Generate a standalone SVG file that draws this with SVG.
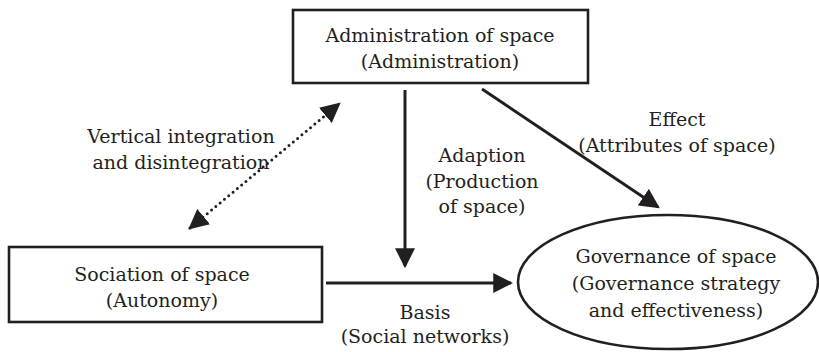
<svg xmlns="http://www.w3.org/2000/svg" width="819" height="352" viewBox="0 0 819 352">
  <defs>
    <style>
      .box { fill: #ffffff; stroke: #231f20; stroke-width: 2.6; }
      .lbl { font-family: "DejaVu Serif", serif; font-size: 19px; fill: #231f20; text-anchor: middle; }
      .arrow { fill: none; stroke: #231f20; stroke-width: 3; marker-end: url(#head); }
      .dotted { fill: none; stroke: #231f20; stroke-width: 3; stroke-linecap: round; stroke-dasharray: 0 5.6; }
    </style>
    <marker id="head" markerUnits="userSpaceOnUse" markerWidth="20" markerHeight="20" viewBox="0 0 18 18" refX="16" refY="9" orient="auto">
      <path d="M0,0 L18,9 L0,18 z" fill="#231f20"/>
    </marker>
    <marker id="headBoth" markerUnits="userSpaceOnUse" markerWidth="20" markerHeight="20" viewBox="0 0 18 18" refX="16" refY="9" orient="auto-start-reverse">
      <path d="M0,0 L18,9 L0,18 z" fill="#231f20"/>
    </marker>
  </defs>

  <rect width="819" height="352" fill="#ffffff"/>

  <!-- connectors -->
  <g id="connectors">
    <line class="dotted" x1="190" y1="228" x2="339" y2="104" marker-start="url(#headBoth)" marker-end="url(#headBoth)"/>
    <line class="arrow" x1="405" y1="90" x2="405" y2="266"/>
    <line class="arrow" x1="482" y1="89" x2="658" y2="207"/>
    <line class="arrow" x1="326" y1="283" x2="511" y2="283"/>
    <text class="lbl" x="181" y="143">Vertical integration</text>
    <text class="lbl" x="181" y="169">and disintegration</text>
    <text class="lbl" x="482" y="162">Adaption</text>
    <text class="lbl" x="482" y="188">(Production</text>
    <text class="lbl" x="482" y="213">of space)</text>
    <text class="lbl" x="677" y="126">Effect</text>
    <text class="lbl" x="677" y="152">(Attributes of space)</text>
    <text class="lbl" x="425" y="319">Basis</text>
    <text class="lbl" x="425" y="343">(Social networks)</text>
  </g>

  <!-- nodes -->
  <g id="administration">
    <rect class="box" x="293" y="10" width="295" height="73"/>
    <text class="lbl" x="440" y="42">Administration of space</text>
    <text class="lbl" x="440" y="68">(Administration)</text>
  </g>

  <g id="sociation">
    <rect class="box" x="9" y="247" width="313" height="75"/>
    <text class="lbl" x="162" y="281">Sociation of space</text>
    <text class="lbl" x="162" y="307">(Autonomy)</text>
  </g>

  <g id="governance">
    <ellipse class="box" cx="668" cy="282" rx="150" ry="67"/>
    <text class="lbl" x="676" y="263">Governance of space</text>
    <text class="lbl" x="676" y="290">(Governance strategy</text>
    <text class="lbl" x="676" y="317">and effectiveness)</text>
  </g>
</svg>
